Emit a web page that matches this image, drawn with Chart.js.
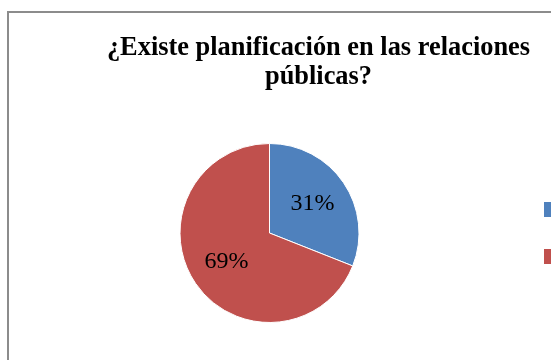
<!DOCTYPE html>
<html lang="es">
<head>
<meta charset="utf-8">
<title>Planificación en las relaciones públicas</title>
<script src="https://cdn.jsdelivr.net/npm/chart.js@4/dist/chart.umd.min.js"></script>
<style>
    html, body {
        margin: 0;
        padding: 0;
        background: #fff;
        overflow: hidden;
        width: 551px;
        height: 360px;
    }
    /* Marco del gráfico: solo se ven los bordes izquierdo y superior */
    #chart-box {
        position: absolute;
        left: 7px;
        top: 11px;
        border-left: 2px solid #8c8c8c;
        border-top: 2px solid #8c8c8c;
    }
    canvas {
        display: block;
    }
</style>
</head>
<body>
<div id="chart-box">
    <canvas id="pieChart" width="619" height="360"></canvas>
</div>

<script>
"use strict";

// Datos de la encuesta
const categories = ["Sí", "No"];
const values = [31, 69];
const colors = ["#4F81BD", "#C0504D"];
const titleLines = ["¿Existe planificación en las relaciones", "públicas?"];

// Escribe el porcentaje dentro de cada sector
const percentLabels = {
    id: "percentLabels",
    afterDatasetsDraw(chart) {
        const ctx = chart.ctx;
        const meta = chart.getDatasetMeta(0);
        const total = values.reduce((a, b) => a + b, 0);

        ctx.save();
        ctx.font = '24px "Liberation Serif", "Times New Roman", serif';
        ctx.fillStyle = "#000";
        ctx.textAlign = "center";
        ctx.textBaseline = "middle";

        meta.data.forEach((arc, i) => {
            const p = arc.getProps(["x", "y", "startAngle", "endAngle", "outerRadius"], true);
            const mid = (p.startAngle + p.endAngle) / 2;
            const r = p.outerRadius * 0.58;
            const text = Math.round(values[i] / total * 100) + "%";
            ctx.fillText(text, p.x + Math.cos(mid) * r, p.y + Math.sin(mid) * r);
        });
        ctx.restore();
    }
};

const ctx = document.getElementById("pieChart");

new Chart(ctx, {
    type: "pie",
    data: {
        labels: categories,
        datasets: [{
            data: values,
            backgroundColor: colors,
            borderColor: "#fff",
            borderWidth: 1
        }]
    },
    options: {
        responsive: false,
        devicePixelRatio: 1,
        animation: false,
        layout: {
            padding: { top: 0, bottom: 50, left: 0, right: 0 }
        },
        plugins: {
            title: {
                display: true,
                text: titleLines,
                color: "#000",
                font: {
                    family: '"Liberation Serif", "Times New Roman", serif',
                    size: 26.4,
                    weight: "bold",
                    lineHeight: 29 / 26.4
                },
                padding: { top: 21, bottom: 51 }
            },
            legend: {
                position: "right",
                // la leyenda ocupa solo la altura del área del gráfico
                fullSize: false,
                maxWidth: 98,
                labels: {
                    boxWidth: 18,
                    boxHeight: 15,
                    padding: 14,
                    color: "#000",
                    font: {
                        family: '"Liberation Serif", "Times New Roman", serif',
                        size: 33
                    },
                    // Cuadros de la leyenda sin borde blanco
                    generateLabels(chart) {
                        const base = Chart.overrides.pie.plugins.legend.labels.generateLabels(chart);
                        return base.map(item => ({ ...item, lineWidth: 0 }));
                    }
                }
            },
            tooltip: { enabled: false }
        }
    },
    plugins: [percentLabels]
});
</script>
</body>
</html>
